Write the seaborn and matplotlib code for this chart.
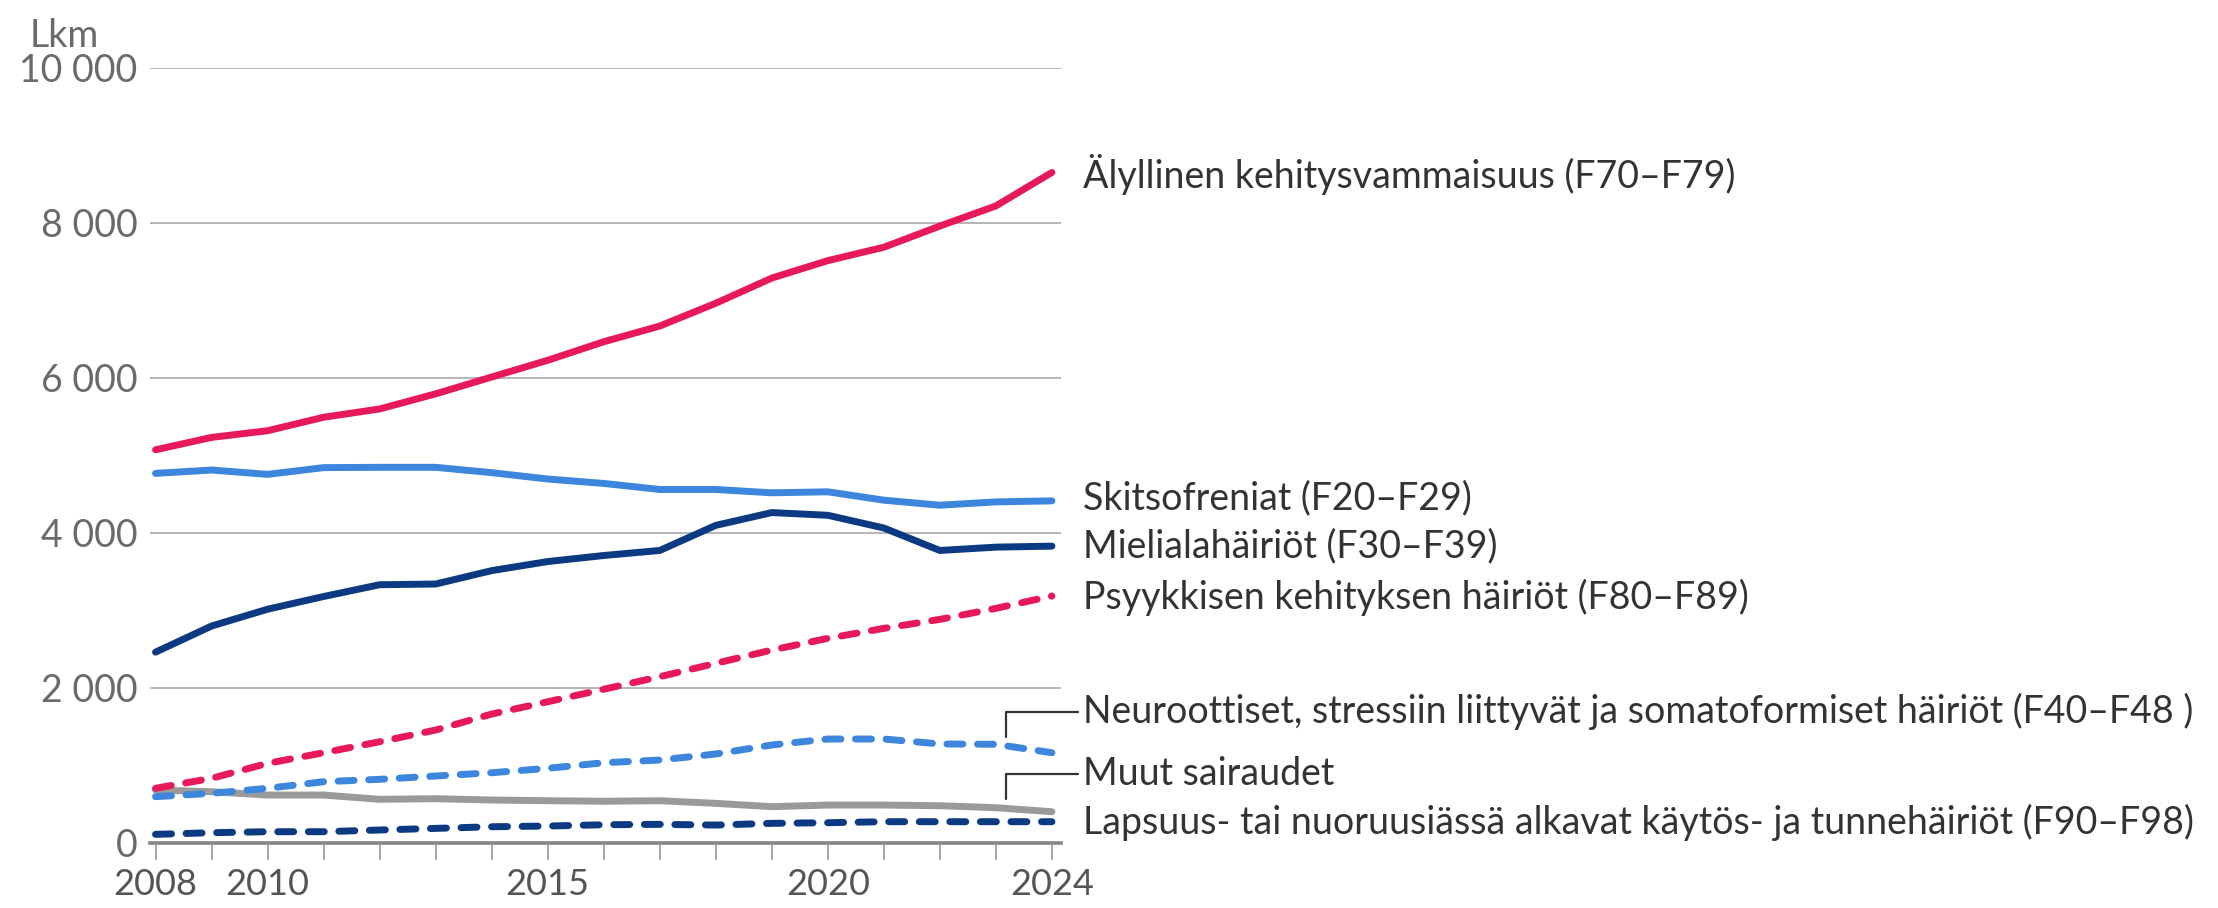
import numpy as np
import pandas as pd
import matplotlib
matplotlib.use("Agg")
import matplotlib.pyplot as plt
import seaborn as sns

# ---------------- data ----------------
years = list(range(2008, 2025))
alyllinen = [5070, 5230, 5316, 5490, 5597, 5792, 6009, 6225, 6464, 6667, 6961, 7286, 7511, 7684, 7957, 8217, 8649]
skitso = [4766, 4809, 4753, 4840, 4844, 4844, 4775, 4693, 4636, 4558, 4558, 4515, 4528, 4420, 4355, 4398, 4411]
mieliala = [2459, 2796, 3013, 3177, 3329, 3338, 3511, 3628, 3706, 3771, 4095, 4260, 4225, 4061, 3771, 3814, 3827]
psyyk = [702, 831, 1024, 1161, 1303, 1454, 1660, 1819, 1980, 2142, 2315, 2486, 2637, 2766, 2882, 3024, 3183]
neuro = [594, 637, 702, 787, 818, 861, 903, 960, 1032, 1067, 1145, 1261, 1338, 1338, 1274, 1270, 1161]
muut = [680, 658, 615, 615, 560, 568, 551, 542, 535, 542, 508, 465, 486, 486, 477, 452, 400]
lapsuus = [108, 129, 142, 142, 164, 185, 206, 215, 232, 237, 228, 250, 258, 271, 271, 271, 271]

series_labels = [
    "Muut sairaudet",
    "Lapsuus- tai nuoruusiässä alkavat käytös- ja tunnehäiriöt (F90\u2013F98)",
    "Neuroottiset, stressiin liittyvät ja somatoformiset häiriöt (F40\u2013F48 )",
    "Psyykkisen kehityksen häiriöt (F80\u2013F89)",
    "Mielialahäiriöt (F30\u2013F39)",
    "Skitsofreniat (F20\u2013F29)",
    "Älyllinen kehitysvammaisuus (F70\u2013F79)",
]
series_values = [muut, lapsuus, neuro, psyyk, mieliala, skitso, alyllinen]
series_colors = ["#9a9a9a", "#0b3a82", "#3d86dd", "#e8195b", "#0b3a82", "#3d86dd", "#e8195b"]
series_dashed = [False, True, True, True, False, False, False]
# label anchor heights (data units) at the right side
label_y = [890, 268, 1690, 3171, 3829, 4448, 8628]
# connector (leader) start heights for labels that use a leader line
leader_start = {0: 560, 2: 1360}

x_ticks_major = [2008, 2010, 2015, 2020, 2024]
y_ticks = [0, 2000, 4000, 6000, 8000, 10000]

# ---------------- style ----------------
sns.set_theme(style="white")
plt.rcParams["font.family"] = ["Lato", "DejaVu Sans"]

fig = plt.figure(figsize=(22.18, 9.08), dpi=100)
ax = fig.add_axes([0.0676, 0.0719, 0.4107, 0.8535])

df = pd.DataFrame({"year": years})
for name, vals in zip(series_labels, series_values):
    df[name] = vals

lw = 5.0
for name, col, dashed in zip(series_labels, series_colors, series_dashed):
    kw = dict(linewidth=lw, solid_capstyle="round", solid_joinstyle="round")
    if dashed:
        kw = dict(linewidth=lw, linestyle=(0, (2.3, 2.1)), dash_capstyle="round",
                  dash_joinstyle="round")
    sns.lineplot(data=df, x="year", y=name, color=col, ax=ax, legend=False,
                 clip_on=False, zorder=3, **kw)

ax.set_xlim(2007.9, 2024.16)
ax.set_ylim(0, 10000)

# grid
ax.set_yticks(y_ticks)
ax.set_yticklabels([f"{v:,}".replace(",", " ") for v in y_ticks])
for v in y_ticks[1:]:
    ax.axhline(v, color="#b5b5b5", lw=1.4, zorder=1)

for s in ["top", "right", "left"]:
    ax.spines[s].set_visible(False)
ax.spines["bottom"].set_color("#858585")
ax.spines["bottom"].set_linewidth(2.6)
ax.spines["bottom"].set_zorder(2)

ax.set_xticks(x_ticks_major)
ax.set_xticklabels([str(y) for y in x_ticks_major])
ax.set_xticks(years, minor=True)
ax.tick_params(axis="x", which="both", direction="out", length=12, width=1.3,
               color="#a0a0a0", bottom=True)
ax.tick_params(axis="x", which="major", pad=6, labelsize=26, labelcolor="#555555")
ax.tick_params(axis="y", length=0, pad=9, labelsize=27, labelcolor="#6a6a6a")
ax.set_xlabel("")
ax.set_ylabel("")

fig.text(0.0446, 0.960, "Lkm", ha="right", va="center", fontsize=27,
         color="#6a6a6a")

# labels on the right
label_x = 2024.55
leader_x = 2023.18
for i, (name, ly) in enumerate(zip(series_labels, label_y)):
    ax.text(label_x, ly, name, ha="left", va="center", fontsize=27,
            color="#333333", clip_on=False)
    if i in leader_start:
        ax.plot([leader_x, leader_x, label_x - 0.08], [leader_start[i], ly, ly],
                color="#333333", lw=1.6, clip_on=False, zorder=2)

fig.savefig("out.png", dpi=100, facecolor="white")
